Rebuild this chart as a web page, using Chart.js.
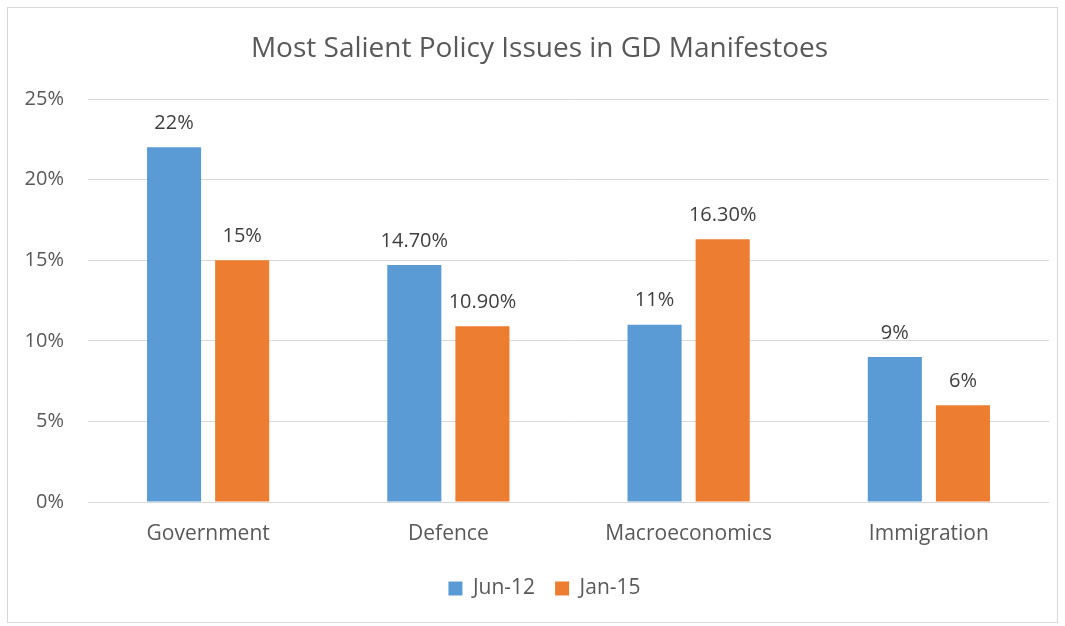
<!DOCTYPE html>
<html>
<head>
<meta charset="utf-8">
<script src="https://cdn.jsdelivr.net/npm/chart.js@4"></script>
<style>
html,body{margin:0;padding:0;background:#fff;}
#wrap{position:absolute;left:7px;top:7px;width:1051px;height:616px;box-sizing:border-box;border:1px solid #d9d9d9;}
canvas{display:block;}
</style>
</head>
<body>
<div id="wrap"><canvas id="c"></canvas></div>
<script>
const categories = ["Government", "Defence", "Macroeconomics", "Immigration"];
const jun12 = [22, 14.7, 11, 9];
const jan15 = [15, 10.9, 16.3, 6];
const jun12Labels = ["22%", "14.70%", "11%", "9%"];
const jan15Labels = ["15%", "10.90%", "16.30%", "6%"];
const yTicks = [0, 5, 10, 15, 20, 25];

const FONT = "'Open Sans', 'Liberation Sans', sans-serif";
const TXT = "#595959";

const dataLabels = {
  id: 'dataLabels',
  afterDatasetsDraw(chart) {
    const ctx = chart.ctx;
    const lbls = [jun12Labels, jan15Labels];
    ctx.save();
    ctx.font = "20px " + FONT;
    ctx.fillStyle = "#404040";
    ctx.textAlign = "center";
    ctx.textBaseline = "middle";
    chart.data.datasets.forEach((ds, i) => {
      chart.getDatasetMeta(i).data.forEach((bar, j) => {
        ctx.fillText(lbls[i][j], bar.x, bar.y - 24);
      });
    });
    ctx.restore();
  }
};

// shift the title and legend boxes horizontally to match the reference centring
const boxShift = {
  id: 'boxShift',
  afterLayout(chart) {
    if (chart.titleBlock) { chart.titleBlock.left += 11; chart.titleBlock.right += 11; }
    if (chart.legend) { chart.legend.left += 16; chart.legend.right += 16; }
  }
};

new Chart(document.getElementById('c'), {
  type: 'bar',
  data: {
    labels: categories,
    datasets: [
      {label: 'Jun-12', data: jun12, backgroundColor: '#5B9BD5', categoryPercentage: 0.567, barPercentage: 0.794},
      {label: 'Jan-15', data: jan15, backgroundColor: '#ED7D31', categoryPercentage: 0.567, barPercentage: 0.794}
    ]
  },
  options: {
    responsive: true,
    maintainAspectRatio: false,
    animation: false,
    layout: {padding: {left: 0, right: 8, top: 0, bottom: 13}},
    plugins: {
      title: {
        display: true,
        text: 'Most Salient Policy Issues in GD Manifestoes',
        color: TXT,
        font: {family: FONT, size: 28, weight: 'normal'},
        padding: {top: 24, bottom: 33.4}
      },
      legend: {
        position: 'bottom',
        labels: {
          color: TXT,
          font: {family: FONT, size: 21},
          boxWidth: 14, boxHeight: 14,
          padding: 20
        }
      },
      tooltip: {enabled: false}
    },
    scales: {
      x: {
        grid: {display: false},
        border: {display: false},
        ticks: {color: TXT, font: {family: FONT, size: 21}, padding: 11},
        afterFit(s) { s.height = 56; }
      },
      y: {
        min: 0, max: 25,
        afterBuildTicks(s) { s.ticks = yTicks.map(v => ({value: v})); },
        grid: {color: '#d9d9d9', lineWidth: 1, drawTicks: false},
        border: {display: false},
        ticks: {color: TXT, font: {family: FONT, size: 20}, padding: 24, callback: v => v + '%'},
        afterFit(s) { s.width = 80; }
      }
    }
  },
  plugins: [dataLabels, boxShift]
});
</script>
</body>
</html>
